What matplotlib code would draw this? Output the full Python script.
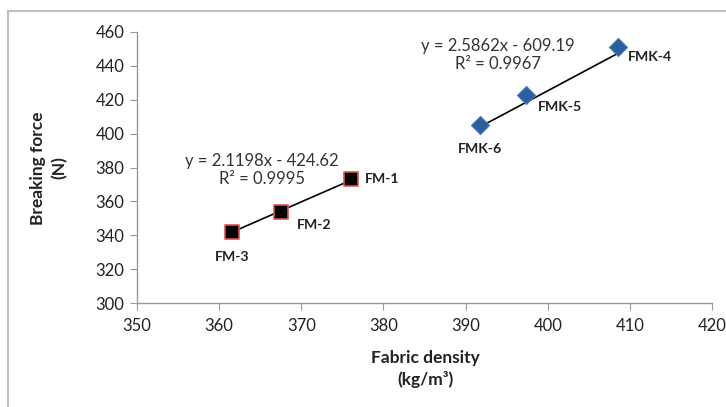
import matplotlib
matplotlib.use('Agg')
import matplotlib.pyplot as plt
from matplotlib.lines import Line2D
import numpy as np

# Fabric density vs breaking force, two sample groups
fm_labels = ['FM-1', 'FM-2', 'FM-3']
fm_density = [376.0, 367.5, 361.6]
fm_force = [373, 354, 342]

fmk_labels = ['FMK-4', 'FMK-5', 'FMK-6']
fmk_density = [408.6, 397.4, 391.7]
fmk_force = [451, 423, 405]

# trendline coefficients as printed on the chart
fm_fit = [2.1198, -424.62]
fmk_fit = [2.5862, -609.19]
fm_r2 = '0.9995'
fmk_r2 = '0.9967'

x_ticks = list(range(350, 421, 10))
y_ticks = list(range(300, 461, 20))

plt.rcParams['font.family'] = ['Lato', 'DejaVu Sans']

W, H = 726, 407
fig = plt.figure(figsize=(W / 100, H / 100), dpi=100)
ax = fig.add_axes([137 / W, 1 - 303 / H, (712 - 137) / W, (303 - 32) / H])

# chart area frame (only top and left edges visible in the original)
fig.add_artist(Line2D([8 / W, 8 / W], [0, 1 - 11 / H], transform=fig.transFigure,
                      color='#bfbfbf', lw=1.5))
fig.add_artist(Line2D([8 / W, 1], [1 - 11 / H, 1 - 11 / H], transform=fig.transFigure,
                      color='#bfbfbf', lw=1.5))

# trendlines
for xs, fit in [(fm_density, fm_fit), (fmk_density, fmk_fit)]:
    xl = np.array([min(xs), max(xs)])
    ax.plot(xl, fit[0] * xl + fit[1], color='black', lw=1.2, zorder=2)

ax.scatter(fm_density, fm_force, marker='s', s=110, facecolor='black',
           edgecolor='#d9534f', linewidth=1.2, zorder=3)
ax.scatter(fmk_density, fmk_force, marker='D', s=85, facecolor='#2d5f9a',
           edgecolor='#4a7cb8', linewidth=0.8, zorder=3)

# point labels (offsets in points)
fm_offsets = [(10, 0, 'left', 'center'), (11.5, -10, 'left', 'center'), (0, -18, 'center', 'center')]
fmk_offsets = [(6.5, -7, 'left', 'center'), (8, -9, 'left', 'center'), (0, -17, 'center', 'center')]
for xs, ys, labs, offs in [(fm_density, fm_force, fm_labels, fm_offsets),
                            (fmk_density, fmk_force, fmk_labels, fmk_offsets)]:
    for x, y, lab, (dx, dy, ha, va) in zip(xs, ys, labs, offs):
        ax.annotate(lab, (x, y), xytext=(dx, dy), textcoords='offset points',
                    ha=ha, va=va, fontsize=10.2, fontweight='bold', color='#222222')

# trendline equations
ax.text(365.2, 378.6, f'y = {fm_fit[0]}x - {abs(fm_fit[1]):.2f}\nR² = {fm_r2}',
        ha='center', va='center', fontsize=12, color='#333333', linespacing=1.15)
ax.text(393.9, 446.4, f'y = {fmk_fit[0]}x - {abs(fmk_fit[1]):.2f}\nR² = {fmk_r2}',
        ha='center', va='center', fontsize=12, color='#333333', linespacing=1.15)

ax.set_xlim(350, 420)
ax.set_ylim(300, 460)
ax.set_xticks(x_ticks)
ax.set_yticks(y_ticks)
ax.tick_params(axis='both', direction='out', length=5, color='#999999',
               labelsize=12, labelcolor='#222222')
ax.tick_params(axis='x', pad=6)
ax.tick_params(axis='y', pad=4)
for s in ['top', 'right']:
    ax.spines[s].set_visible(False)
for s in ['left', 'bottom']:
    ax.spines[s].set_color('#999999')
    ax.spines[s].set_linewidth(1.0)

# axis titles placed where they sit in the original
fig.text(425 / W, 1 - 369 / H, 'Fabric density\n(kg/m³)', ha='center', va='center',
         fontsize=12.5, fontweight='bold', color='#222222', linespacing=1.4)
fig.text(49 / W, 1 - 168 / H, 'Breaking force\n(N)', ha='center', va='center',
         rotation=90, fontsize=12.5, fontweight='bold', color='#222222',
         linespacing=1.4)

fig.savefig('out.png', dpi=100)
